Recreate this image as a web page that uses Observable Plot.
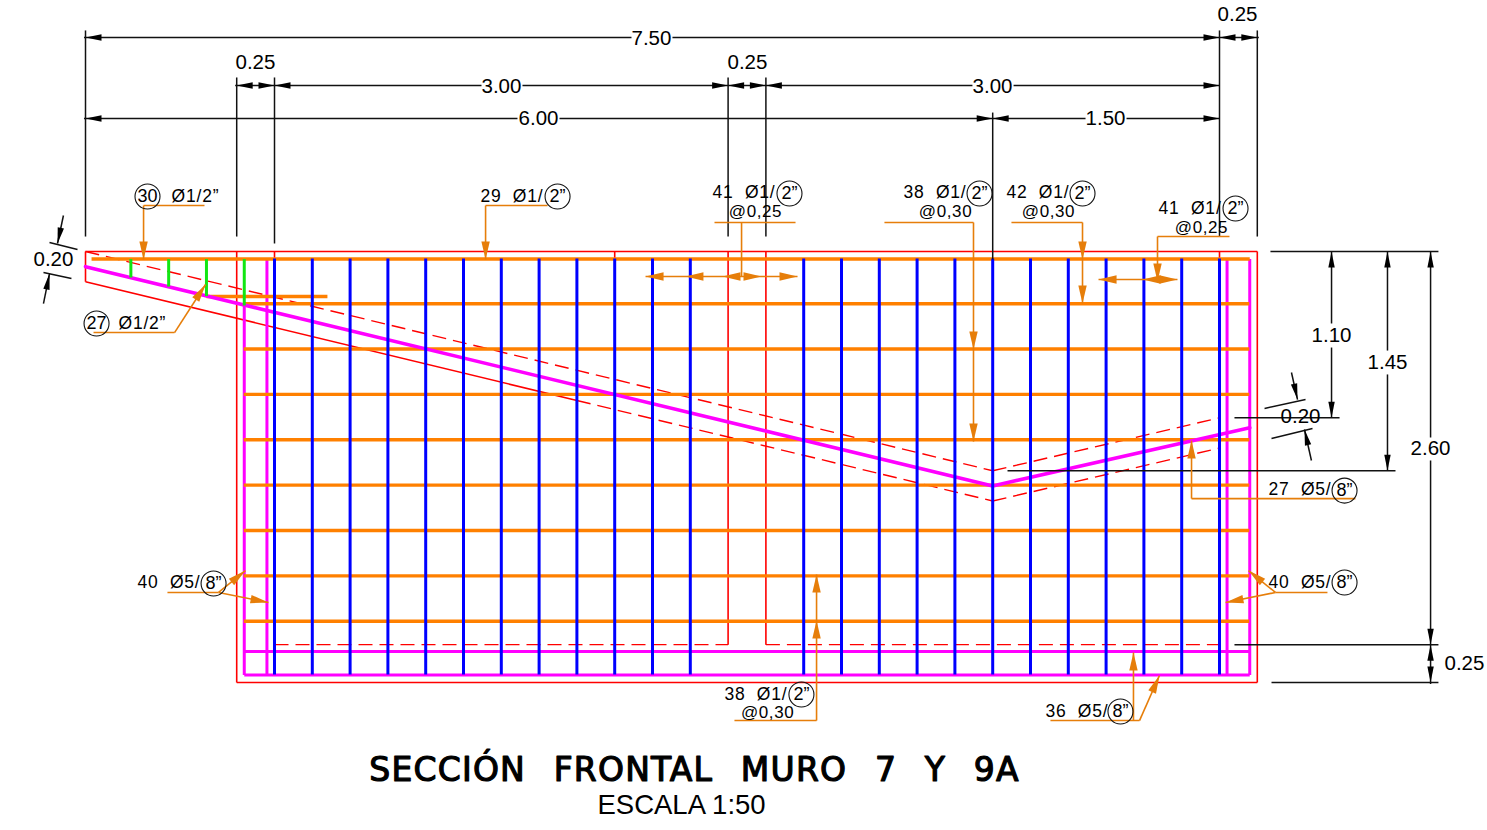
<!DOCTYPE html>
<html>
<head>
<meta charset="utf-8">
<script src="https://cdn.jsdelivr.net/npm/d3@7"></script>
<script src="https://cdn.jsdelivr.net/npm/@observablehq/plot@0.6"></script>
<style>html,body{margin:0;padding:0;background:#fff;overflow:hidden}svg{display:block}
text[aria-label="callout"]{letter-spacing:.8px}
text[aria-label="spacing"]{letter-spacing:.6px}
text[aria-label="title"]{letter-spacing:1.2px;word-spacing:16px}</style>
</head>
<body>
<script>
// All values are metres on the wall section: x along the wall, y down from its top edge.
const xDomain = [-0.5622, 9.2725];
const yDomain = [-1.660, 3.829];

const blueBarX = [1.25,1.5,1.75,2,2.25,2.5,2.75,3,3.25,3.5,3.75,4,4.75,5,5.25,5.5,5.75,6,6.25,6.5,6.75,7,7.25,7.5];
const orangeBarY = [0.345,0.645,0.945,1.245,1.545,1.845,2.145,2.445];
const greenBars = [[0.30,0.05,0.30,0.172],[0.55,0.05,0.55,0.232],[0.80,0.05,0.80,0.295],[1.05,0.05,1.05,0.357]];

const redSolid = [[0,0,7.75,0],[7.75,0,7.75,2.85],[7.75,2.85,1,2.85],[1,2.85,1,0],[0,0,0,0.2],[0,0.2,3.25,0.985],
  [4.25,0,4.25,2.6],[4.5,0,4.5,2.6],[1.25,0,1.25,0.05],[3.5,0,3.5,0.05],[7.5,0,7.5,0.05]];
const redDashed = [[3.25,0.985,6,1.65],[6,1.65,7.5,1.3],[0,0,6,1.45],[6,1.45,7.5,1.1],[1.25,2.6,4.25,2.6],[4.5,2.6,7.5,2.6]];
const magentaThin = [[1.05,0.357,1.05,2.8],[1.2,0.05,1.2,2.8],[7.55,0.05,7.55,2.8],[7.7,0.05,7.7,2.8],[1.05,2.645,7.7,2.645],[1.05,2.8,7.7,2.8]];
const magentaBent = [[0,0.10],[6,1.55],[7.7,1.165]];
const orangeBars = [[0.04,0.05,7.7,0.05],[0.80,0.298,1.60,0.298]];

const leaders = [
  [0.787,-0.304,0.384,-0.304],[0.384,-0.304,0.384,0.053],
  [3.056,-0.304,2.646,-0.304],[2.646,-0.304,2.646,0.053],
  [4.16,-0.192,4.696,-0.192],[4.339,-0.192,4.339,0.165],[3.704,0.165,4.709,0.165],
  [7.09,-0.099,7.566,-0.099],[7.09,-0.099,7.09,0.198],[6.70,0.185,7.222,0.185],
  [6.124,-0.192,6.594,-0.192],[6.594,-0.192,6.594,0.344],
  [5.284,-0.192,5.873,-0.192],[5.873,-0.192,5.873,1.257],
  [0.053,0.536,0.589,0.536],[0.589,0.536,0.794,0.218],
  [8.399,1.634,7.315,1.634],[7.315,1.634,7.315,1.25],
  [8.214,2.255,7.870,2.255],[7.870,2.255,7.692,2.110],[7.870,2.255,7.540,2.321],
  [0.542,2.255,0.880,2.255],[0.880,2.255,1.058,2.110],[0.880,2.255,1.210,2.321],
  [4.292,3.102,4.835,3.102],[4.835,3.102,4.835,2.136],
  [6.382,3.102,6.971,3.102],[6.971,3.102,7.103,2.804],[6.931,3.102,6.931,2.652]
];
const leaderTips = [
  [0.384,0.053,0],[2.646,0.053,0],
  [3.704,0.165,90],[3.968,0.165,90],[4.213,0.165,90],[4.471,0.165,270],[4.709,0.165,270],
  [6.70,0.185,90],[6.991,0.185,90],[7.222,0.185,270],[7.09,0.198,0],
  [6.594,0.053,0],[6.594,0.344,0],[5.873,0.648,0],[5.873,1.257,0],
  [0.794,0.218,213],[7.315,1.25,180],
  [7.692,2.110,129],[7.540,2.321,79],[1.058,2.110,-129],[1.210,2.321,-79],
  [4.835,2.136,180],[4.835,2.44,180],[7.103,2.804,-156],[6.931,2.652,180]
];

const dimLines = [
  [0,-1.462,0,-0.099],[1,-1.151,1,-0.099],[1.25,-1.151,1.25,-0.053],[4.25,-1.151,4.25,-0.099],[4.5,-1.151,4.5,-0.099],
  [6,-0.919,6,0.053],[7.5,-1.462,7.5,-0.099],[7.75,-1.462,7.75,-0.099],
  [-0.01,-1.415,3.611,-1.415],[3.882,-1.415,7.76,-1.415],
  [0.99,-1.098,2.619,-1.098],[2.89,-1.098,5.866,-1.098],[6.138,-1.098,7.5,-1.098],
  [-0.01,-0.88,2.857,-0.88],[3.135,-0.88,6.614,-0.88],[6.885,-0.88,7.5,-0.88],
  [8.241,0,8.241,0.476],[8.241,0.635,8.241,1.1],[8.611,0,8.611,0.655],[8.611,0.813,8.611,1.45],[8.896,0,8.896,1.23],[8.896,1.382,8.896,2.86],
  [7.837,0,8.948,0],[7.599,1.1,8.294,1.1],[6.098,1.45,8.664,1.45],[7.599,2.6,8.948,2.6],[7.844,2.85,8.948,2.85],
  [-0.238,-0.06,-0.053,-0.013],[-0.278,0.139,-0.093,0.179],[-0.146,-0.238,-0.185,-0.053],[-0.278,0.344,-0.238,0.146],
  [7.798,1.038,8.069,0.979],[7.844,1.237,8.115,1.171],[7.976,0.8,8.016,0.979],[8.108,1.382,8.062,1.177]
];
const dimTips = [
  [0,-1.415,90],[7.5,-1.415,270],[7.5,-1.415,90],[7.75,-1.415,270],
  [1,-1.098,90],[1.25,-1.098,270],[1.25,-1.098,90],[4.25,-1.098,270],[4.25,-1.098,90],[4.5,-1.098,270],[4.5,-1.098,90],[7.5,-1.098,270],
  [0,-0.88,90],[6,-0.88,270],[6,-0.88,90],[7.5,-0.88,270],
  [8.241,0,180],[8.241,1.1,0],[8.611,0,180],[8.611,1.45,0],
  [8.896,0,180],[8.896,2.6,0],[8.896,2.6,180],[8.896,2.85,0],
  [-0.185,-0.053,12],[-0.238,0.146,191],[8.016,0.979,-12.5],[8.062,1.177,167]
];
const dimLabels = [
  ["7.50",3.743,-1.409],["3.00",2.751,-1.091],["3.00",5.999,-1.091],["6.00",2.996,-0.88],["1.50",6.746,-0.88],
  ["1.10",8.241,0.556],["1.45",8.611,0.734],["2.60",8.896,1.303],
  ["0.25",7.619,-1.567],["0.25",1.124,-1.25],["0.25",4.378,-1.25],["0.25",9.12,2.725],["0.20",8.036,1.091],["0.20",-0.212,0.053]
];
const callouts = [
  ["Ø1/2”",0.569,-0.364],["29\u00a0\u00a0Ø1/",2.612,-0.364],["41\u00a0\u00a0Ø1/",4.147,-0.39],
  ["38\u00a0\u00a0Ø1/",5.41,-0.39],["42\u00a0\u00a0Ø1/",6.091,-0.39],["41\u00a0\u00a0Ø1/",7.097,-0.284],
  ["Ø1/2”",0.218,0.476],["27\u00a0\u00a0Ø5/",7.824,1.574],["40\u00a0\u00a0Ø5/",7.824,2.189],
  ["40\u00a0\u00a0Ø5/",0.344,2.189],["38\u00a0\u00a0Ø1/",4.226,2.93],["36\u00a0\u00a0Ø5/",6.349,3.042]
];
const spacingLabels = [
  ["@0,25",4.431,-0.265],["@0,30",5.688,-0.265],["@0,30",6.369,-0.265],["@0,25",7.381,-0.159],["@0,30",4.511,3.049]
];
const rings = [
  ["30",0.41,-0.364],["2”",3.122,-0.364],["2”",4.656,-0.384],["2”",5.913,-0.384],["2”",6.594,-0.384],["2”",7.606,-0.284],
  ["27",0.073,0.476],["8”",8.327,1.581],["8”",8.327,2.189],["8”",0.847,2.196],["2”",4.735,2.93],["8”",6.845,3.042]
];
const titleText = "SECCIÓN FRONTAL MURO 7 Y 9A";
const scaleText = "ESCALA 1:50";

const arrowHead = {draw(c, l, r) { c.moveTo(0, 0); c.lineTo(r, -l); c.lineTo(-r, -l); c.closePath(); }};
const seg = (data, stroke, strokeWidth, extra = {}) => Plot.link(data, {x1: d => d[0], y1: d => d[1], x2: d => d[2], y2: d => d[3], stroke, strokeWidth, ...extra});
const tips = (data, fill, length, r) => Plot.vector(data, {x: d => d[0], y: d => d[1], rotate: d => d[2], length, r, shape: arrowHead, anchor: "start", fill, stroke: "none"});
const labels = (data, opts) => Plot.text(data, {text: d => d[0], x: d => d[1], y: d => d[2], fill: "black", ...opts});

const RED = "#ff0000", BLUE = "#0000ff", MAG = "#ff00ff", ORA = "#ff8000", LEAD = "#e67e0a", GRN = "#12e612";
const SANS = "Liberation Sans";

const chart = Plot.plot({
  width: 1487, height: 830, margin: 0,
  x: {domain: xDomain, range: [0, 1487], axis: null},
  y: {domain: yDomain, range: [0, 830], axis: null},
  style: {background: "white"},
  marks: [
    seg(redSolid, RED, 1.6),
    seg(redDashed, RED, 1.4, {strokeDasharray: "14,7"}),
    seg(magentaThin, MAG, 3),
    Plot.ruleY(orangeBarY, {x1: 1.05, x2: 7.7, stroke: ORA, strokeWidth: 3.4}),
    seg(orangeBars, ORA, 3.4),
    Plot.line(magentaBent, {x: d => d[0], y: d => d[1], stroke: MAG, strokeWidth: 3.6}),
    Plot.ruleX(blueBarX, {y1: 0.05, y2: 2.8, stroke: BLUE, strokeWidth: 3}),
    seg(greenBars, GRN, 3),
    seg(dimLines, "#111", 1.5),
    tips(dimTips, "black", 16, 3.2),
    seg(leaders, LEAD, 1.6),
    tips(leaderTips, LEAD, 18, 4.2),
    Plot.dot(rings, {x: d => d[1], y: d => d[2], r: 12.5, stroke: "#111", strokeWidth: 1.1, fill: "none"}),
    labels(dimLabels, {fontFamily: SANS, fontSize: 20.5}),
    labels(callouts, {fontFamily: SANS, fontSize: 17.5, textAnchor: "start", ariaLabel: () => "callout"}),
    labels(rings, {fontFamily: SANS, fontSize: 18}),
    labels(spacingLabels, {fontFamily: SANS, fontSize: 17, ariaLabel: () => "spacing"}),
    Plot.text([titleText], {text: d => d, x: () => 4.028, y: () => 3.433, fontFamily: "DejaVu Sans", fontSize: 33, fill: "black", stroke: "black", strokeWidth: 1.2, ariaLabel: () => "title"}),
    Plot.text([scaleText], {text: d => d, x: () => 3.942, y: () => 3.664, fontFamily: SANS, fontSize: 27.5, fill: "black"})
  ]
});
document.body.appendChild(chart);
</script>
</body>
</html>
